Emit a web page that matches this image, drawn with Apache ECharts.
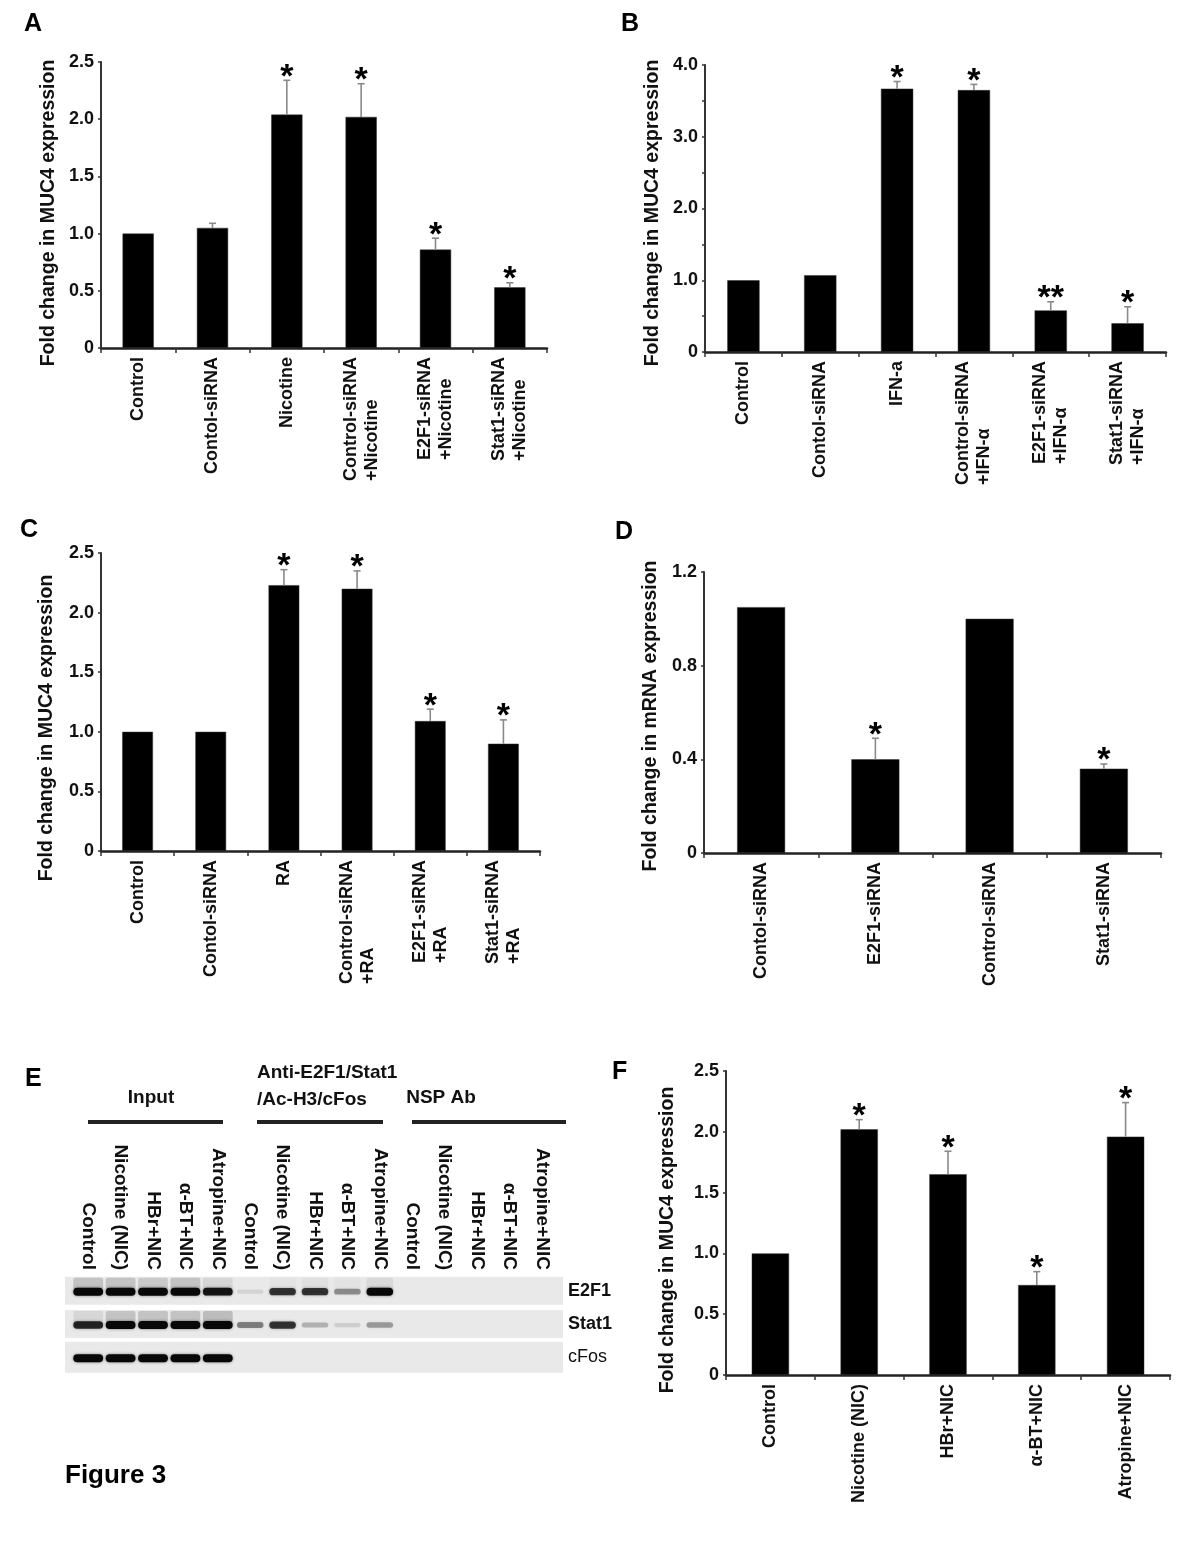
<!DOCTYPE html>
<html><head><meta charset="utf-8">
<script src="https://cdn.jsdelivr.net/npm/echarts@6/dist/echarts.min.js"></script>
<style>html,body{margin:0;padding:0;background:#fff}#c{width:1200px;height:1547px}</style>
</head><body><div id="c"></div><script>
// ---------- DATA ----------
// Panel A
const catsA = ['Control','Contol-siRNA','Nicotine','Control-siRNA\n+Nicotine','E2F1-siRNA\n+Nicotine','Stat1-siRNA\n+Nicotine'];
const valsA = [1.0, 1.05, 2.04, 2.02, 0.86, 0.53];
const errA  = [null, 1.09, 2.34, 2.31, 0.96, 0.57];
const starsA = ['', '', '*', '*', '*', '*'];
// Panel B
const catsB = ['Control','Contol-siRNA','IFN-a','Control-siRNA\n+IFN-α','E2F1-siRNA\n+IFN-α','Stat1-siRNA\n+IFN-α'];
const valsB = [1.0, 1.07, 3.67, 3.65, 0.58, 0.40];
const errB  = [null, null, 3.77, 3.73, 0.70, 0.63];
const starsB = ['', '', '*', '*', '**', '*'];
// Panel C
const catsC = ['Control','Contol-siRNA','RA','Control-siRNA\n+RA','E2F1-siRNA\n+RA','Stat1-siRNA\n+RA'];
const valsC = [1.0, 1.0, 2.23, 2.20, 1.09, 0.90];
const errC  = [null, null, 2.36, 2.35, 1.19, 1.10];
const starsC = ['', '', '*', '*', '*', '*'];
// Panel D
const catsD = ['Contol-siRNA','E2F1-siRNA','Control-siRNA','Stat1-siRNA'];
const valsD = [1.05, 0.40, 1.0, 0.36];
const errD  = [null, 0.49, null, 0.38];
const starsD = ['', '*', '', '*'];
// Panel F
const catsF = ['Control','Nicotine (NIC)','HBr+NIC','α-BT+NIC','Atropine+NIC'];
const valsF = [1.0, 2.02, 1.65, 0.74, 1.96];
const errF  = [null, 2.10, 1.84, 0.85, 2.24];
const starsF = ['', '*', '*', '*', '*'];
// y-axis tick labels shown
const yTicksA = [0, 0.5, 1.0, 1.5, 2.0, 2.5];
const yTicksB = [0, 1.0, 2.0, 3.0, 4.0];
const yTicksD = [0, 0.4, 0.8, 1.2];
// Panel E (gel)
const gelLanes = ['Control','Nicotine (NIC)','HBr+NIC','α-BT+NIC','Atropine+NIC',
                  'Control','Nicotine (NIC)','HBr+NIC','α-BT+NIC','Atropine+NIC',
                  'Control','Nicotine (NIC)','HBr+NIC','α-BT+NIC','Atropine+NIC'];
const gelRows = ['E2F1','Stat1','cFos'];
const bandsE2F1  = [1.0, 1.0, 1.0, 1.0, 0.95, 0.22, 0.85, 0.85, 0.55, 1.0, 0, 0, 0, 0, 0];
const bandsStat1 = [0.9, 1.0, 1.0, 1.0, 1.0, 0.6, 0.85, 0.4, 0.25, 0.5, 0, 0, 0, 0, 0];
const bandsCFos  = [1.0, 1.0, 1.0, 1.0, 1.0, 0, 0, 0, 0, 0, 0, 0, 0, 0, 0];
const smearE2F1  = [0.3, 0.3, 0.25, 0.3, 0.15, 0, 0.05, 0.07, 0.05, 0.12, 0, 0, 0, 0, 0];
const smearStat1 = [0.15, 0.3, 0.3, 0.3, 0.35, 0, 0, 0, 0, 0, 0, 0, 0, 0, 0];

// ---------- HELPERS ----------
const FF = '"Liberation Sans", Arial, Helvetica, sans-serif';
const INK = '#111';

function fmtTick(allowed) {
  return function (v) {
    const ok = allowed.some(t => Math.abs(t - v) < 1e-9);
    if (!ok) return '';
    return v === 0 ? '0' : v.toFixed(1);
  };
}
function catLabelFmt(v) { return v.split('\n').map(s => '{l|' + s + '}').join('\n'); }

function xAxisFor(gi, cats) {
  return {
    gridIndex: gi, type: 'category', data: cats,
    axisLine: { show: true, lineStyle: { color: '#222', width: 2.5 } },
    axisTick: { show: true, length: 5, lineStyle: { color: '#333', width: 1.5 } },
    axisLabel: {
      interval: 0, rotate: 90, margin: 9, formatter: catLabelFmt,
      rich: { l: { align: 'left', fontSize: 18, fontWeight: 'bold', fontFamily: FF, color: INK, lineHeight: 21 } }
    }
  };
}
function yAxisFor(gi, max, interval, ticks, name, pad, gap) {
  return {
    gridIndex: gi, type: 'value', min: 0, max: max, interval: interval,
    axisLine: { show: true, lineStyle: { color: '#333', width: 2 } },
    axisTick: { show: true, length: 3, lineStyle: { color: '#333', width: 1.5 } },
    splitLine: { show: false },
    axisLabel: { formatter: fmtTick(ticks), margin: 7, fontSize: 18, fontWeight: 'bold', fontFamily: FF, color: INK },
    name: name, nameLocation: 'middle', nameRotate: 90, nameGap: gap,
    nameTextStyle: { fontSize: 19.5, fontWeight: 'bold', fontFamily: FF, color: INK, padding: [0, pad, 0, 0] }
  };
}
function errRender(stars) {
  return function (params, api) {
    const i = api.value(0), v = api.value(1), e = api.value(2);
    const p0 = api.coord([i, v]), p1 = api.coord([i, e]);
    const st = { stroke: '#8a8a8a', lineWidth: 1.6 };
    const ch = [
      { type: 'line', shape: { x1: p0[0], y1: p0[1], x2: p1[0], y2: p1[1] }, style: st },
      { type: 'line', shape: { x1: p1[0] - 3.5, y1: p1[1], x2: p1[0] + 3.5, y2: p1[1] }, style: st }
    ];
    const s = stars[i];
    if (s) ch.push({ type: 'text', x: p1[0], y: p1[1] - 3,
      style: { text: s, fill: '#000', font: 'bold 34px ' + FF, textAlign: 'center', textVerticalAlign: 'middle' } });
    return { type: 'group', children: ch };
  };
}
function barSeries(gi, vals) {
  return { type: 'bar', xAxisIndex: gi, yAxisIndex: gi, data: vals, barWidth: '42%',
    itemStyle: { color: '#000', borderColor: '#333', borderWidth: 0.5 }, silent: true };
}
function errSeries(gi, vals, errs, stars) {
  const d = [];
  errs.forEach((e, i) => { if (e != null) d.push([i, vals[i], e]); });
  return { type: 'custom', xAxisIndex: gi, yAxisIndex: gi, data: d, renderItem: errRender(stars), z: 5, silent: true, clip: false };
}

// gel renderers
function gelRowRender(params, api) {
  const r = api.value(0);
  const c = api.coord([0, r]);
  const cs = params.coordSys;
  const h = r === 2 ? 31 : 28;
  return { type: 'rect', shape: { x: cs.x - 7, y: c[1] - h / 2, width: cs.width + 12, height: h },
    style: { fill: '#e9e9e9' } };
}
function gelBandRender(params, api) {
  const lane = api.value(0), row = api.value(1), inten = api.value(2), smear = api.value(3);
  const c = api.coord([lane, row]);
  const laneW = api.size([1, 0])[0];
  const w = laneW * (lane < 5 ? 0.92 : 0.82);
  const ch = [];
  if (smear > 0) ch.push({ type: 'rect', shape: { x: c[0] - w / 2, y: c[1] - 13, width: w, height: 12, r: 2 },
    style: { fill: 'rgba(110,110,110,' + smear + ')' } });
  if (inten > 0) {
    const h = 3 + 5 * inten;
    ch.push({ type: 'rect', shape: { x: c[0] - w / 2, y: c[1] - h / 2 + 1, width: w, height: h, r: h / 2 },
      style: { fill: 'rgba(8,8,8,' + (0.25 + 0.75 * inten) * inten + ')', shadowBlur: 3, shadowColor: 'rgba(0,0,0,' + (0.5 * inten) + ')' } });
  }
  return { type: 'group', children: ch };
}
const gelData = [];
[bandsE2F1, bandsStat1, bandsCFos].forEach((arr, r) => {
  const sm = r === 0 ? smearE2F1 : (r === 1 ? smearStat1 : null);
  arr.forEach((v, l) => gelData.push([l, r, v, sm ? sm[l] : 0]));
});

// ---------- OPTION ----------
const chart = echarts.init(document.getElementById('c'), null, { renderer: 'canvas', width: 1200, height: 1547 });
const hdr = { font: 'bold 19px ' + FF, fill: INK };
const option = {
  animation: false,
  backgroundColor: '#ffffff',
  textStyle: { fontFamily: FF },
  grid: [
    { left: 101, top: 62, width: 446, height: 286 },   // A
    { left: 705, top: 65, width: 461, height: 287 },   // B
    { left: 101, top: 553, width: 439, height: 298 },  // C
    { left: 704, top: 572, width: 457, height: 281 },  // D
    { left: 726, top: 1071, width: 444, height: 304 }, // F
    { left: 72, top: 1274, width: 486, height: 100 }   // E gel
  ],
  xAxis: [
    xAxisFor(0, catsA), xAxisFor(1, catsB), xAxisFor(2, catsC), xAxisFor(3, catsD), xAxisFor(4, catsF),
    { gridIndex: 5, type: 'category', data: gelLanes, position: 'top',
      axisLine: { show: false }, axisTick: { show: false },
      axisLabel: { interval: 0, rotate: 90, margin: 4, fontSize: 19, fontWeight: 'bold', fontFamily: FF, color: INK } }
  ],
  yAxis: [
    yAxisFor(0, 2.5, 0.5, yTicksA, 'Fold change in MUC4 expression', 16, 42),
    yAxisFor(1, 4.0, 0.5, yTicksB, 'Fold change in MUC4 expression', 9, 42),
    yAxisFor(2, 2.5, 0.5, yTicksA, 'Fold change in MUC4 expression', 52, 44),
    yAxisFor(3, 1.2, 0.4, yTicksD, 'Fold change in mRNA expression', 7, 43),
    yAxisFor(4, 2.5, 0.5, yTicksA, 'Fold change in MUC4 expression', 34, 48),
    { gridIndex: 5, type: 'category', data: gelRows, inverse: true, position: 'right',
      axisLine: { show: false }, axisTick: { show: false }, splitLine: { show: false },
      axisLabel: { margin: 10, formatter: v => (v === 'cFos' ? '{r|' + v + '}' : '{b|' + v + '}'),
        rich: { b: { fontSize: 18, fontWeight: 'bold', fontFamily: FF, color: INK },
                r: { fontSize: 18, fontWeight: 'normal', fontFamily: FF, color: INK } } } }
  ],
  series: [
    barSeries(0, valsA), errSeries(0, valsA, errA, starsA),
    barSeries(1, valsB), errSeries(1, valsB, errB, starsB),
    barSeries(2, valsC), errSeries(2, valsC, errC, starsC),
    barSeries(3, valsD), errSeries(3, valsD, errD, starsD),
    barSeries(4, valsF), errSeries(4, valsF, errF, starsF),
    { type: 'custom', xAxisIndex: 5, yAxisIndex: 5, data: [[0], [1], [2]], renderItem: gelRowRender, clip: false, silent: true, z: 1 },
    { type: 'custom', xAxisIndex: 5, yAxisIndex: 5, data: gelData, renderItem: gelBandRender, clip: false, silent: true, z: 2 }
  ],
  graphic: [
    { type: 'text', left: 24, top: 12, style: { text: 'A', font: 'bold 25px ' + FF, fill: '#000' } },
    { type: 'text', left: 621, top: 12, style: { text: 'B', font: 'bold 25px ' + FF, fill: '#000' } },
    { type: 'text', left: 20, top: 518, style: { text: 'C', font: 'bold 25px ' + FF, fill: '#000' } },
    { type: 'text', left: 615, top: 520, style: { text: 'D', font: 'bold 25px ' + FF, fill: '#000' } },
    { type: 'text', left: 25, top: 1067, style: { text: 'E', font: 'bold 25px ' + FF, fill: '#000' } },
    { type: 'text', left: 612, top: 1060, style: { text: 'F', font: 'bold 25px ' + FF, fill: '#000' } },
    { type: 'text', left: 65, top: 1463, style: { text: 'Figure 3', font: 'bold 26px ' + FF, fill: '#000' } },
    // gel headers
    { type: 'text', x: 151, y: 1098, style: Object.assign({ text: 'Input', textAlign: 'center', textVerticalAlign: 'middle' }, hdr) },
    { type: 'text', x: 257, y: 1073, style: Object.assign({ text: 'Anti-E2F1/Stat1', textAlign: 'left', textVerticalAlign: 'middle' }, hdr) },
    { type: 'text', x: 257, y: 1100, style: Object.assign({ text: '/Ac-H3/cFos', textAlign: 'left', textVerticalAlign: 'middle' }, hdr) },
    { type: 'text', x: 441, y: 1098, style: Object.assign({ text: 'NSP Ab', textAlign: 'center', textVerticalAlign: 'middle' }, hdr) },
    { type: 'rect', shape: { x: 88, y: 1120, width: 135, height: 4 }, style: { fill: '#222' } },
    { type: 'rect', shape: { x: 257, y: 1120, width: 126, height: 4 }, style: { fill: '#222' } },
    { type: 'rect', shape: { x: 412, y: 1120, width: 154, height: 4 }, style: { fill: '#222' } }
  ]
};
chart.setOption(option);
</script></body></html>
